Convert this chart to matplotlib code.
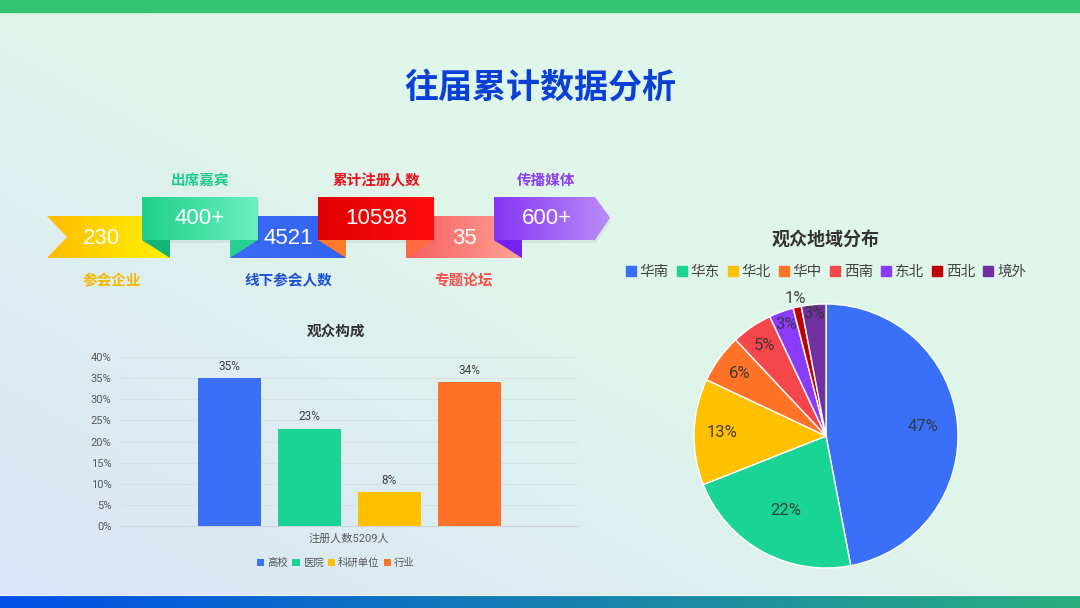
import matplotlib
matplotlib.use("Agg")
import matplotlib.pyplot as plt
import numpy as np
from matplotlib.colors import to_rgb
from matplotlib.patches import Polygon, Rectangle
from matplotlib.lines import Line2D

# Latin glyphs from Roboto, CJK falls through to Noto
plt.rcParams["font.family"] = ["Roboto", "Noto Sans CJK SC", "DejaVu Sans"]
CJK = ["Noto Sans CJK SC", "DejaVu Sans"]
NUM = ["Liberation Sans", "Noto Sans CJK SC"]

# ---- data ----
ribbon_values = ["230", "400+", "4521", "10598", "35", "600+"]
ribbon_labels = ["参会企业", "出席嘉宾", "线下参会人数", "累计注册人数", "专题论坛", "传播媒体"]

bar_group = "注册人数5209人"
bar_categories = ["高校", "医院", "科研单位", "行业"]
bar_values = [0.35, 0.23, 0.08, 0.34]
bar_yticks = [0.0, 0.05, 0.10, 0.15, 0.20, 0.25, 0.30, 0.35, 0.40]

pie_labels = ["华南", "华东", "华北", "华中", "西南", "东北", "西北", "境外"]
pie_values = [47, 22, 13, 6, 5, 3, 1, 3]

# ---- styles ----
W, H = 1080, 608
ribbon_grad = [("#ffbc00", "#fff200"), ("#1fcf8a", "#6cf0c2"), ("#3a6cf6", "#3262f2"),
               ("#e00000", "#ff0d0d"), ("#f75e62", "#ffa293"), ("#8436f4", "#bb8cf9")]
fold_left = [None, "#13b676", None, "#ff7a2a", None, "#7422ee"]
fold_right = [None, "#27d093", None, "#ff6a45", None, None]
label_colors = ["#f5b800", "#1ec98b", "#1b4fd6", "#e8121b", "#f2504b", "#8c3ef2"]
bar_colors = ["#3a6ff7", "#19d494", "#ffc000", "#ff7328"]
pie_colors = ["#3a6ff7", "#19d494", "#ffc000", "#ff7328", "#f5474b", "#8b3bfa", "#c00000", "#7030a0"]
pie_label_r = [0.74, 0.64, 0.79, 0.81, 0.83, 0.90, 1.07, 0.93]

fig = plt.figure(figsize=(W / 100, H / 100), dpi=100)
bg = fig.add_axes([0, 0, 1, 1])
bg.set_axis_off()

# background gradient
yy, xx = np.mgrid[0:1:152j, 0:1:270j]
t = np.clip(yy * 0.9 + (1 - xx) * 0.9 - 0.8, 0, 1)[..., None]
mint = np.array(to_rgb("#e0f6ea"))
blue = np.array(to_rgb("#dae4f8"))
bg.imshow(mint * (1 - t) + blue * t, extent=(0, W, H, 0), aspect="auto",
          interpolation="bilinear", zorder=0)

# top / bottom bars
bg.add_patch(Rectangle((0, 0), W, 12, color="#34c471", zorder=1))
gx = np.linspace(0, 1, 256)[None, :, None]
bot = np.array(to_rgb("#0050e8")) * (1 - gx) + np.array(to_rgb("#2aae7e")) * gx
bg.imshow(bot, extent=(0, W, H, 595), aspect="auto", zorder=1)
bg.plot([0, W], [594.5, 594.5], color="#eef6fa", lw=0.8, zorder=1)


def grad_poly(pts, c0, c1, z):
    poly = Polygon(pts, closed=True, facecolor="none", edgecolor="none", zorder=z)
    bg.add_patch(poly)
    xs = [p[0] for p in pts]
    ys = [p[1] for p in pts]
    g = np.linspace(0, 1, 128)[None, :, None]
    img = np.array(to_rgb(c0)) * (1 - g) + np.array(to_rgb(c1)) * g
    im = bg.imshow(img, extent=(min(xs), max(xs), max(ys), min(ys)), aspect="auto",
                   interpolation="bilinear", zorder=z)
    im.set_clip_path(poly)


# ---- ribbon ----
up_top, up_bot = 197, 240
lo_top, lo_bot = 216, 258
fold = 28
up_left = [142 + k * 176 for k in range(3)]
up_w = 116
num_size = 16
for k in range(3):
    i = 2 * k
    L = 47 if k == 0 else up_left[k - 1] + up_w - fold
    R = up_left[k] + fold
    if k == 0:
        pts = [(L, lo_top), (R, lo_top), (R, lo_bot), (L, lo_bot), (L + 20, (lo_top + lo_bot) / 2)]
        cx = (L + 14 + up_left[0]) / 2
    else:
        pts = [(L, lo_top), (R, lo_top), (R, lo_bot), (L, lo_bot)]
        cx = (up_left[k - 1] + up_w + up_left[k]) / 2
    grad_poly(pts, *ribbon_grad[i], 2)
    bg.text(cx, (lo_top + lo_bot) / 2 + 1, ribbon_values[i], color="white", fontsize=num_size,
            family=NUM, ha="center", va="center", zorder=6)
    bg.text(cx + 10 * (k == 0), 280, ribbon_labels[i], color=label_colors[i], fontsize=10.5,
            fontweight="bold", family=CJK, ha="center", va="center", zorder=6)

for k in range(3):
    i = 2 * k + 1
    L = up_left[k]
    R = L + up_w
    if k == 2:
        pts = [(L, up_top), (R - 15, up_top), (R, (up_top + up_bot) / 2 - 1), (R - 15, up_bot), (L, up_bot)]
        cx = (L + R - 15) / 2 + 2
    else:
        pts = [(L, up_top), (R, up_top), (R, up_bot), (L, up_bot)]
        cx = (L + R) / 2
    # soft shadow
    bg.add_patch(Polygon([(x + 1, y + 3) for x, y in pts], closed=True,
                         facecolor="#000000", alpha=0.06, edgecolor="none", zorder=3))
    grad_poly(pts, *ribbon_grad[i], 4)
    if fold_left[i]:
        bg.add_patch(Polygon([(L, up_bot), (L + fold, up_bot), (L + fold, lo_bot)],
                             closed=True, facecolor=fold_left[i], edgecolor="none", zorder=4))
    if fold_right[i]:
        bg.add_patch(Polygon([(R - fold, up_bot), (R, up_bot), (R - fold, lo_bot)],
                             closed=True, facecolor=fold_right[i], edgecolor="none", zorder=4))
    bg.text(cx, (up_top + up_bot) / 2, ribbon_values[i], color="white", fontsize=num_size,
            family=NUM, ha="center", va="center", zorder=6)
    bg.text(cx, 180, ribbon_labels[i], color=label_colors[i], fontsize=10.5,
            fontweight="bold", family=CJK, ha="center", va="center", zorder=6)

# titles
bg.text(540, 87, "往届累计数据分析", color="#0a3fd8", fontsize=24.5, fontweight="bold",
        family=CJK, ha="center", va="center", zorder=6)
bg.text(336, 331, "观众构成", color="#333333", fontsize=10.5, fontweight="bold",
        family=CJK, ha="center", va="center", zorder=6)
bg.text(826, 239, "观众地域分布", color="#333333", fontsize=13, fontweight="bold",
        family=CJK, ha="center", va="center", zorder=6)

bg.set_xlim(0, W)
bg.set_ylim(H, 0)

# ---- bar chart ----
axb = fig.add_axes([120 / W, (H - 526) / H, 458 / W, 169 / H])
axb.set_facecolor("none")
pitch = 80 / 458
width = 63 / 458
n = len(bar_categories)
containers = []
for j, (cat, v) in enumerate(zip(bar_categories, bar_values)):
    c = axb.bar([(j - (n - 1) / 2) * pitch], [v], width=width, color=bar_colors[j],
                label=cat, zorder=3)
    axb.bar_label(c, labels=[f"{v:.0%}"], padding=4, fontsize=8.5, color="#404040")
    containers.append(c)
axb.set_xlim(-0.5, 0.5)
axb.set_ylim(0, 0.40)
axb.set_yticks(bar_yticks)
axb.set_yticklabels([f"{v:.0%}" for v in bar_yticks])
axb.set_xticks([0])
axb.set_xticklabels([bar_group])
axb.tick_params(axis="y", length=0, pad=6, labelsize=8, labelcolor="#595959")
axb.tick_params(axis="x", length=0, pad=5, labelsize=8, labelcolor="#595959")
axb.grid(axis="y", color="#d6dfe0", lw=0.6, zorder=0)
for s in ["top", "right", "left"]:
    axb.spines[s].set_visible(False)
axb.spines["bottom"].set_color("#cdd5d8")
axb.spines["bottom"].set_linewidth(0.8)
fig.legend(handles=containers, labels=bar_categories, loc="center",
           bbox_to_anchor=(336 / W, 1 - 563 / H), ncol=4, frameon=False, fontsize=7.5,
           handlelength=0.7, handleheight=0.7, handletextpad=0.3, columnspacing=0.4,
           labelcolor="#595959")

# ---- pie chart ----
r_px = 132
lim = 1.2
side = 2 * lim * r_px
axp = fig.add_axes([(826 - side / 2) / W, (H - 436 - side / 2) / H, side / W, side / H])
wedges, _ = axp.pie(pie_values, colors=pie_colors, startangle=90, counterclock=False,
                    wedgeprops=dict(edgecolor="white", linewidth=1))
axp.set_xlim(-lim, lim)
axp.set_ylim(-lim, lim)
axp.set_aspect("equal")
tot = sum(pie_values)
for w, v, rf in zip(wedges, pie_values, pie_label_r):
    ang = np.deg2rad((w.theta1 + w.theta2) / 2)
    axp.text(rf * np.cos(ang), rf * np.sin(ang), f"{v / tot:.0%}", ha="center", va="center",
             fontsize=12, color="#333333", alpha=0.9)
handles = [Line2D([], [], marker="s", linestyle="none", markersize=7, color=c) for c in pie_colors]
fig.legend(handles=handles, labels=pie_labels, loc="center",
           bbox_to_anchor=(826 / W, 1 - 272 / H), ncol=8, frameon=False, fontsize=10.5,
           handlelength=0.7, handletextpad=0.25, columnspacing=0.55, labelcolor="#444444")

fig.savefig("out.png", dpi=100)
